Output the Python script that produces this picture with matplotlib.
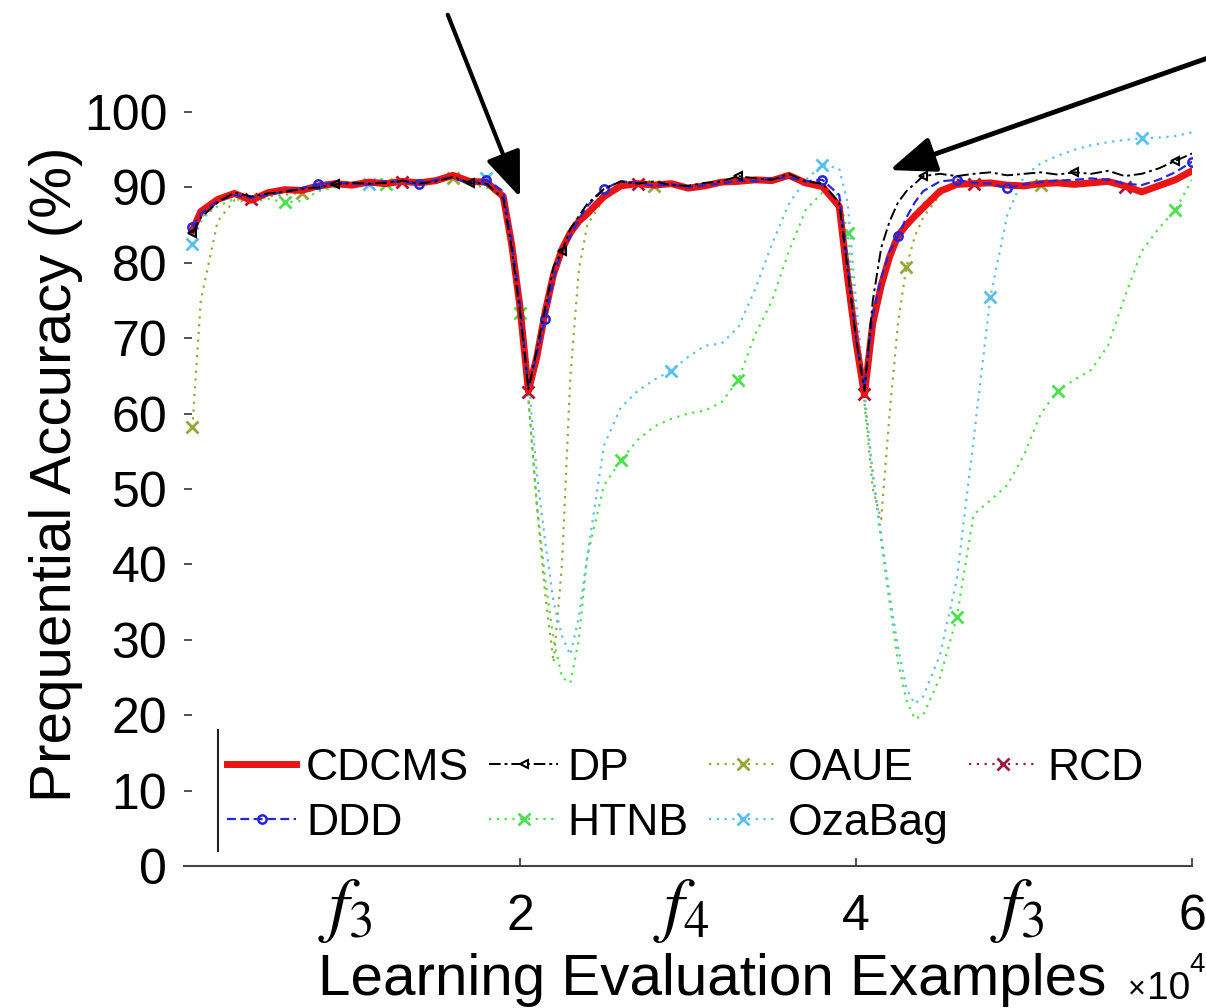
import matplotlib
matplotlib.use("Agg")
import matplotlib.pyplot as plt
from matplotlib.patches import ArrowStyle

plt.rcParams['font.family'] = ['Liberation Sans', 'DejaVu Sans']

# evaluation points (number of examples seen)
examples = [500, 1000, 2000, 3000, 4000, 5000, 6000, 7000, 8000, 9000,
            10000, 11000, 12000, 13000, 14000, 15000, 16000, 17000, 18000, 19000,
            19500, 20000, 20500, 21000, 21500, 22000, 22500, 23000, 23500, 24000,
            25000, 26000, 27000, 28000, 29000, 30000, 31000, 32000, 33000, 34000,
            35000, 36000, 37000, 38000, 39000, 39500, 40000, 40500, 41000, 41500,
            42000, 42500, 43000, 43500, 44000, 45000, 46000, 47000, 48000, 49000,
            50000, 51000, 52000, 53000, 54000, 55000, 56000, 57000, 58000, 59000,
            60000]

cdcms = [84.3, 86.8, 88.4, 89.2, 88.3, 89.3, 89.7, 89.6, 90.2, 90.5,
         90.3, 90.7, 90.5, 90.8, 90.6, 90.9, 91.6, 90.8, 90.7, 88.8,
         82.5, 74.1, 63.0, 67.5, 73.5, 78.5, 81.8, 84.0, 85.5, 86.5,
         88.8, 90.2, 90.5, 90.3, 90.5, 89.9, 90.2, 90.7, 90.8, 91.0,
         90.9, 91.6, 90.6, 90.1, 87.5, 78.0, 69.5, 62.5, 72.0, 77.0,
         80.8, 83.6, 85.0, 86.2, 87.3, 89.5, 90.4, 90.5, 90.6, 90.3,
         90.2, 90.5, 90.6, 90.4, 90.6, 90.8, 90.2, 89.4, 90.2, 91.0,
         92.2]

ddd = [84.8, 86.5, 88.2, 89.0, 88.6, 89.0, 89.5, 89.9, 90.4, 90.6,
       90.5, 90.4, 90.8, 90.7, 90.5, 91.0, 91.3, 90.5, 91.0, 89.5,
       83.0, 74.5, 63.5, 67.8, 72.5, 78.0, 81.5, 83.5, 85.8, 87.5,
       89.8, 90.8, 90.6, 90.2, 90.4, 90.0, 90.3, 90.5, 90.9, 90.8,
       91.2, 91.3, 90.8, 91.0, 89.0, 80.0, 70.0, 63.5, 73.0, 78.0,
       81.5, 83.5, 86.0, 88.0, 89.5, 90.8, 91.0, 90.6, 90.5, 89.9,
       90.4, 90.7, 90.9, 91.0, 91.2, 91.0, 90.5, 90.3, 91.0, 92.0,
       93.4]

dp = [84.0, 86.0, 88.0, 89.3, 88.8, 89.2, 89.4, 89.8, 90.0, 90.4,
      90.6, 90.5, 90.6, 90.9, 90.5, 90.8, 91.4, 90.6, 90.5, 88.5,
      82.0, 73.5, 63.2, 68.5, 74.0, 79.5, 81.5, 84.5, 86.2, 87.8,
      89.8, 90.8, 90.5, 90.8, 90.3, 90.2, 90.6, 90.8, 91.5, 91.2,
      91.0, 91.8, 90.8, 90.5, 88.0, 79.0, 70.0, 63.0, 75.0, 82.0,
      85.5, 88.0, 89.5, 90.5, 91.5, 91.8, 91.5, 91.8, 92.0, 91.6,
      91.8, 92.0, 91.7, 92.0, 91.8, 92.2, 91.5, 91.8, 92.5, 93.5,
      94.5]

htnb = [83.5, 86.0, 87.5, 88.5, 88.0, 88.5, 88.0, 88.2, 89.5, 90.0,
        90.2, 90.6, 90.4, 90.8, 90.6, 90.7, 91.3, 90.3, 90.0, 88.6,
        81.5, 73.3, 62.0, 48.0, 38.0, 30.0, 25.0, 24.3, 30.0, 41.0,
        50.5, 53.8, 56.5, 58.3, 59.3, 60.0, 60.4, 61.5, 64.5, 70.5,
        75.0, 81.5, 87.0, 89.3, 89.0, 84.0, 72.0, 61.5, 52.0, 43.0,
        35.0, 27.0, 22.0, 19.5, 20.0, 25.0, 33.0, 46.6, 48.5, 50.5,
        54.5, 60.0, 63.0, 64.5, 65.8, 69.0, 75.5, 81.5, 84.5, 87.0,
        91.0]

oaue = [58.2, 75.0, 85.5, 88.3, 88.0, 88.8, 89.0, 89.3, 89.8, 90.2,
        90.3, 90.4, 90.5, 90.6, 90.4, 90.8, 91.2, 90.5, 90.3, 88.5,
        82.0, 73.5, 62.0, 48.0, 36.0, 27.0, 40.0, 65.0, 79.0, 85.0,
        88.5, 90.0, 90.3, 90.2, 90.4, 90.0, 90.2, 90.6, 90.8, 90.9,
        91.0, 91.4, 90.6, 90.0, 87.2, 77.5, 69.0, 61.5, 50.0, 46.0,
        60.0, 72.0, 79.5, 83.5, 86.0, 89.0, 90.2, 90.4, 90.5, 90.2,
        90.1, 90.3, 90.5, 90.3, 90.5, 90.7, 90.0, 89.3, 90.0, 90.8,
        91.8]

ozabag = [82.5, 85.5, 88.0, 89.0, 88.5, 89.2, 89.6, 89.8, 90.3, 90.4,
          90.6, 90.5, 90.7, 90.6, 90.5, 90.9, 91.4, 90.8, 91.2, 89.5,
          84.0, 75.0, 65.0, 52.0, 43.0, 35.0, 30.5, 28.0, 33.0, 41.0,
          55.8, 60.8, 63.0, 64.5, 65.7, 67.5, 69.0, 69.3, 71.5, 76.5,
          82.5, 87.8, 91.0, 93.0, 92.5, 88.0, 75.0, 63.0, 52.0, 44.0,
          36.0, 29.0, 23.5, 21.5, 22.5, 28.0, 38.0, 56.6, 75.5, 86.3,
          91.5, 93.2, 94.2, 95.0, 95.6, 96.0, 96.3, 96.5, 96.6, 96.8,
          97.3]

rcd = [84.5, 86.6, 88.3, 89.0, 88.5, 89.4, 89.6, 89.5, 90.3, 90.4,
       90.4, 90.6, 90.6, 90.7, 90.5, 91.0, 91.5, 90.7, 90.6, 88.6,
       82.3, 74.0, 62.8, 67.6, 73.2, 78.6, 81.6, 84.2, 85.6, 86.8,
       89.0, 90.2, 90.4, 90.4, 90.4, 90.0, 90.3, 90.6, 90.9, 90.9,
       91.0, 91.5, 90.7, 90.2, 87.6, 78.5, 69.8, 62.6, 72.5, 77.5,
       81.2, 83.8, 85.3, 86.6, 87.8, 89.8, 90.5, 90.5, 90.7, 90.2,
       90.4, 90.6, 90.5, 90.6, 90.7, 90.7, 90.0, 89.6, 90.4, 91.2,
       92.0]

xtick_values = [20000, 40000, 60000]
xtick_labels = ['2', '4', '6']
ytick_values = [0, 10, 20, 30, 40, 50, 60, 70, 80, 90, 100]
concept_positions = [10000, 30000, 50000]
concept_labels = [r'$f_3$', r'$f_4$', r'$f_3$']

fig = plt.figure(figsize=(12.06, 10.08), dpi=100)
ax = fig.add_axes([184 / 1206, 142 / 1008, 1008 / 1206, 754 / 1008])

c_red = (0.92, 0.08, 0.08)
c_blue = (0.15, 0.15, 0.85)
c_olive = (0.58, 0.66, 0.22)
c_green = (0.30, 0.88, 0.30)
c_cyan = (0.35, 0.75, 0.93)
c_darkred = (0.62, 0.10, 0.25)

ax.plot(examples, cdcms, color=c_red, lw=5, label='CDCMS', zorder=6)
ax.plot(examples, ddd, color=c_blue, lw=1.6, ls=(0, (4, 2)), marker='o', ms=6,
        mfc='none', mew=1.8, markevery=[0, 8, 14, 18, 24, 30, 43, 51, 56, 59, 70],
        label='DDD', zorder=7)
ax.plot(examples, dp, color='black', lw=1.4, ls=(0, (6, 2, 1.5, 2)), marker='<', ms=6,
        mfc='none', mew=1.5, markevery=[0, 9, 17, 26, 38, 54, 63, 69],
        label='DP', zorder=7)
ax.plot(examples, htnb, color=c_green, lw=1.6, ls=(0, (1, 2.5)), marker='x', ms=9,
        mew=2, markevery=[6, 12, 21, 31, 38, 45, 56, 62, 69], label='HTNB', zorder=3)
ax.plot(examples, oaue, color=c_olive, lw=1.6, ls=(0, (1, 2.5)), marker='x', ms=9,
        mew=2, markevery=[0, 7, 16, 33, 52, 61], label='OAUE', zorder=3)
ax.plot(examples, ozabag, color=c_cyan, lw=1.6, ls=(0, (1, 2.5)), marker='x', ms=9,
        mew=2, markevery=[0, 11, 18, 34, 43, 58, 67], label='OzaBag', zorder=3)
ax.plot(examples, rcd, color=c_darkred, lw=1.6, ls=(0, (1, 2.5)), marker='x', ms=9,
        mew=2, markevery=[4, 13, 22, 32, 47, 57, 66], label='RCD', zorder=4)

ax.set_xlim(0, 60000)
ax.set_ylim(0, 100)
ax.set_xticks(xtick_values, labels=xtick_labels)
ax.set_yticks(ytick_values)
for side in ('left', 'top', 'right'):
    ax.spines[side].set_visible(False)
ax.spines['bottom'].set_color('#444444')
ax.spines['bottom'].set_linewidth(1.5)
ax.tick_params(axis='both', direction='in', length=6, width=1.2, color='#333333',
               labelsize=36)
ax.tick_params(axis='x', pad=20)
ax.tick_params(axis='y', pad=12)

ax.set_ylabel('Prequential Accuracy (%)', fontsize=42)
ax.yaxis.set_label_coords(-0.100, 0.519)
ax.set_xlabel('Learning Evaluation Examples', fontsize=42)
ax.xaxis.label.set_va('baseline')
ax.xaxis.set_label_coords(0.524, -0.171)

# x-axis scale factor, written as separate pieces: "×", "10" and superscript "4"
ax.text(0.9365, -0.176, '\u00d7', transform=ax.transAxes, fontsize=22,
        ha='left', va='baseline', clip_on=False)
ax.text(0.9555, -0.176, '10', transform=ax.transAxes, fontsize=28,
        ha='left', va='baseline', clip_on=False)
ax.text(0.9975, -0.140, '4', transform=ax.transAxes, fontsize=20,
        ha='left', va='baseline', clip_on=False)

for xpos, lab in zip(concept_positions, concept_labels):
    ax.text(xpos - 400, -0.082, lab, transform=ax.get_xaxis_transform(), fontsize=52,
            ha='center', va='baseline', math_fontfamily='stix', clip_on=False)

# drift markers above the curves
head = ArrowStyle('-|>', head_length=1.4, head_width=0.55)
ax.annotate('', xy=(20000, 88.7), xytext=(15700, 112.9), annotation_clip=False,
            arrowprops=dict(arrowstyle=head, lw=3, color='black', mutation_scale=20,
                            shrinkA=0, shrinkB=0))
ax.annotate('', xy=(42000, 92.3), xytext=(61500, 107.6), annotation_clip=False,
            arrowprops=dict(arrowstyle=head, lw=3.5, color='black', mutation_scale=20,
                            shrinkA=0, shrinkB=0))

leg = ax.legend(ncol=4, loc='lower left', bbox_to_anchor=(0.021, 0.0),
                frameon=False, fontsize=32, handlelength=1.55, handletextpad=0.22,
                columnspacing=0.45, labelspacing=0.32, borderaxespad=0.2,
                borderpad=0.3)
ax.plot([0.034, 0.034], [0.02, 0.18], transform=ax.transAxes, color='#222222',
        lw=1.5, clip_on=False)

fig.savefig('out.png', dpi=100)
